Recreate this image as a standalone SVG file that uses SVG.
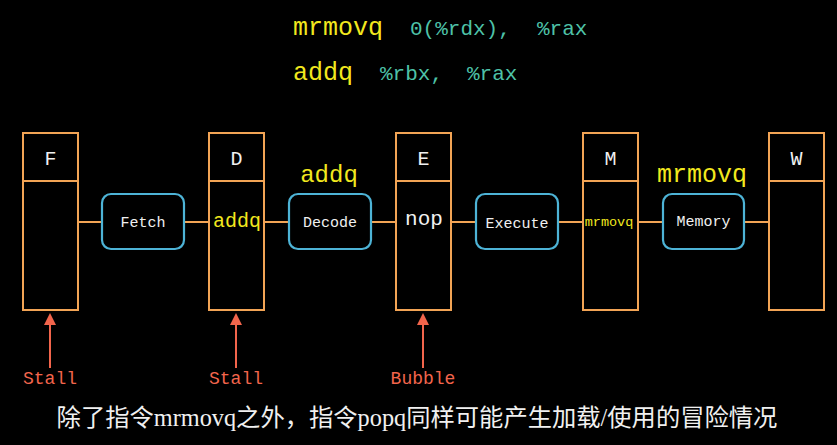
<svg xmlns="http://www.w3.org/2000/svg" width="837" height="445" viewBox="0 0 837 445">
<style>
.reg{fill:none;stroke:#F2A455;stroke-width:2}
.stage{fill:#000;stroke:#4DB3D6;stroke-width:2.2}
.conn{stroke:#F2A455;stroke-width:2;fill:none}
.mono{font-family:"Liberation Mono","DejaVu Sans Mono",monospace}
.w{fill:#F0F0F0}
.y{fill:#F2E81E}
.t{fill:#4EC2A8}
.r{fill:#F2654C}
.sig{stroke:#F2654C;stroke-width:2}
</style>
<defs>
<marker id="ah" viewBox="0 0 12 12" refX="1" refY="6" markerWidth="12" markerHeight="12" markerUnits="userSpaceOnUse" orient="auto">
<path d="M0,0 L12,6 L0,12 Z" fill="#F2654C"/>
</marker>
</defs>
<rect width="837" height="445" fill="#000"/>
<g id="code">
<text class="mono y" x="293" y="35" font-size="25">mrmovq</text>
<text class="mono t" x="410" y="35" font-size="21">0(%rdx), <tspan x="537">%rax</tspan></text>
<text class="mono y" x="293" y="80" font-size="25">addq</text>
<text class="mono t" x="380" y="80" font-size="21">%rbx, <tspan x="467">%rax</tspan></text>
</g>
<g id="connectors">
<line class="conn" x1="78" y1="222" x2="102" y2="222"/>
<line class="conn" x1="184" y1="222" x2="209" y2="222"/>
<line class="conn" x1="264" y1="222" x2="289" y2="222"/>
<line class="conn" x1="371" y1="222" x2="396" y2="222"/>
<line class="conn" x1="451" y1="222" x2="476" y2="222"/>
<line class="conn" x1="558" y1="222" x2="583" y2="222"/>
<line class="conn" x1="638" y1="222" x2="663" y2="222"/>
<line class="conn" x1="744" y1="222" x2="769" y2="222"/>
<line class="sig" x1="50" y1="368" x2="50" y2="324" marker-end="url(#ah)"/>
<line class="sig" x1="236" y1="368" x2="236" y2="324" marker-end="url(#ah)"/>
<line class="sig" x1="423" y1="368" x2="423" y2="324" marker-end="url(#ah)"/>
</g>
<g id="regF">
<rect class="reg" x="23" y="133" width="55" height="177"/>
<line class="reg" x1="23" y1="181" x2="78" y2="181"/>
<text class="mono w" x="50.5" y="165" font-size="20" text-anchor="middle">F</text>
</g>
<g id="regD">
<rect class="reg" x="209" y="133" width="55" height="177"/>
<line class="reg" x1="209" y1="181" x2="264" y2="181"/>
<text class="mono w" x="236.5" y="165" font-size="20" text-anchor="middle">D</text>
<text class="mono y" x="237" y="227" font-size="20" text-anchor="middle">addq</text>
</g>
<g id="regE">
<rect class="reg" x="396" y="133" width="55" height="177"/>
<line class="reg" x1="396" y1="181" x2="451" y2="181"/>
<text class="mono w" x="423.5" y="165" font-size="20" text-anchor="middle">E</text>
<text class="mono w" x="424" y="225" font-size="21" text-anchor="middle">nop</text>
</g>
<g id="regM">
<rect class="reg" x="583" y="133" width="55" height="177"/>
<line class="reg" x1="583" y1="181" x2="638" y2="181"/>
<text class="mono w" x="610.5" y="165" font-size="20" text-anchor="middle">M</text>
<text class="mono y" x="609" y="226" font-size="13.5" text-anchor="middle">mrmovq</text>
</g>
<g id="regW">
<rect class="reg" x="769" y="133" width="55" height="177"/>
<line class="reg" x1="769" y1="181" x2="824" y2="181"/>
<text class="mono w" x="796.5" y="165" font-size="20" text-anchor="middle">W</text>
</g>
<g id="fetch">
<rect class="stage" x="102" y="194" width="82" height="55" rx="9"/>
<text class="mono w" x="143" y="227" font-size="15" text-anchor="middle">Fetch</text>
</g>
<g id="decode">
<rect class="stage" x="289" y="194" width="82" height="55" rx="9"/>
<text class="mono w" x="330" y="227" font-size="15" text-anchor="middle">Decode</text>
<text class="mono y" x="329" y="182" font-size="24" text-anchor="middle">addq</text>
</g>
<g id="execute">
<rect class="stage" x="476" y="194" width="82" height="55" rx="9"/>
<text class="mono w" x="517" y="228" font-size="15" text-anchor="middle">Execute</text>
</g>
<g id="memory">
<rect class="stage" x="663" y="194" width="81" height="55" rx="9"/>
<text class="mono w" x="703.5" y="226" font-size="15" text-anchor="middle">Memory</text>
<text class="mono y" x="702" y="182" font-size="25" text-anchor="middle">mrmovq</text>
</g>
<g id="labels">
<text class="mono r" x="50" y="384" font-size="18" text-anchor="middle">Stall</text>
<text class="mono r" x="236" y="384" font-size="18" text-anchor="middle">Stall</text>
<text class="mono r" x="423" y="384" font-size="18" text-anchor="middle">Bubble</text>
</g>
<g id="caption">
<text x="417" y="426" font-size="24.3" text-anchor="middle" fill="#F0F0F0" font-family="'Liberation Serif','Noto Sans CJK SC',serif">除了指令mrmovq之外，指令popq同样可能产生加载/使用的冒险情况</text>
</g>
</svg>
